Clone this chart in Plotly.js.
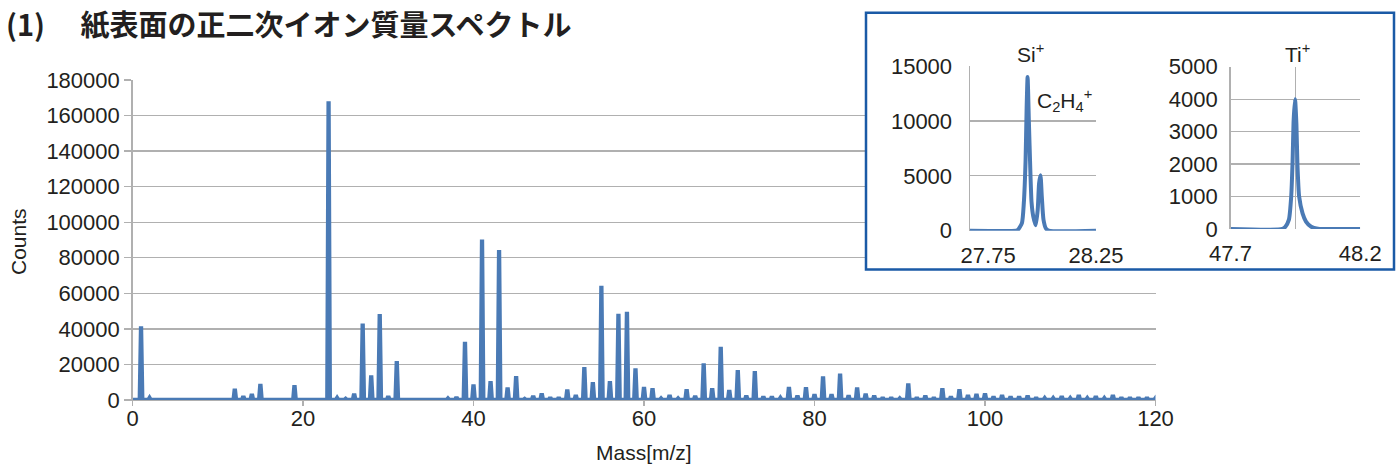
<!DOCTYPE html>
<html>
<head>
<meta charset="utf-8">
<script src="https://cdn.plot.ly/plotly-3.0.1.min.js"></script>
<style>html,body{margin:0;padding:0;background:#fff}#chart{width:1398px;height:466px}</style>
</head>
<body>
<div id="chart"></div>
<script>
// ---- main spectrum: peak masses and counts ----
const peakMass = [1,2,3,6,7,10,11,12,13,14,15,16,17,18,19,20,21,22,23,24,25,26,27,28,29,30,31,32,33,35,36,37,38,39,40,
  41,42,43,44,45,46,47,48,49,50,51,52,53,54,55,56,57,58,59,60,61,62,63,64,65,66,67,68,69,70,
  71,72,73,74,75,76,77,78,79,80,81,82,83,84,85,86,87,88,89,90,91,92,93,94,95,96,97,98,99,100,
  101,102,103,104,105,106,107,108,109,110,111,112,113,114,115,116,117,118,119,120,121];
const peakCounts = [41500,1200,300,300,300,300,500,6300,2200,3400,9000,500,600,600,8400,300,300,300,168000,1100,600,3600,43000,13800,48300,2200,21900,500,500,300,400,800,1600,32700,8800,
  90300,10600,84300,7000,13400,600,2300,3700,1500,1500,5900,2800,18500,10000,64300,10600,48500,49600,17800,7300,6600,800,2800,800,6000,2300,20600,6600,29900,5600,
  16800,2500,16300,1900,1900,1100,7300,2500,7200,3200,13300,3200,14800,2700,7000,3500,2500,1400,1400,800,9300,1500,2500,1400,6600,1900,6000,2800,3400,3700,
  1900,2800,1900,1900,2500,1400,1000,1000,2200,1000,2800,1000,2200,1000,2800,1400,1400,1400,1400,1000,600];

// ---- inset Si+/C2H4+ profile ----
const siMass = [27.75,27.933,27.940,27.9565,27.964,27.971,27.975,27.979,27.984,27.9898,27.9946,28.0014,28.011,28.019,28.0245,28.030,28.0353,28.042,28.0516,28.0625,28.25];
const siCounts = [0,0,60,700,2500,6400,11000,14000,10000,5500,2600,1300,500,1900,4300,5050,3100,1000,200,0,0];

// ---- inset Ti+ profile ----
const tiMass = [47.7,47.90,47.9116,47.9249,47.934,47.9394,47.9434,47.9487,47.954,47.958,47.9646,47.9778,47.991,48.011,48.037,48.06,48.2];
const tiCounts = [0,0,70,280,1000,2100,3350,4000,3250,2000,1000,480,230,70,10,0,0];

// ---- axis ticks ----
const mainXTicks = [0,20,40,60,80,100,120];
const mainYTicks = [0,20000,40000,60000,80000,100000,120000,140000,160000,180000];
const siXTicks = [27.75,28.25];
const siXLabels = ['\u00a0\u00a0\u00a0\u00a0\u00a0\u00a027.75','28.25'];
const siYTicks = [0,5000,10000,15000];
const tiXTicks = [47.7,48.2];
const tiXLabels = ['47.7','48.2'];
const tiYTicks = [0,1000,2000,3000,4000,5000];

// build spike line from peak list
const specX = [0], specY = [0];
for (let i = 0; i < peakMass.length; i++) {
  specX.push(peakMass[i]-0.15, peakMass[i], peakMass[i]+0.15);
  specY.push(0, peakCounts[i], 0);
}

const W = 1398, H = 466;
const px = v => v / W;
const py = v => 1 - v / H;
const BLUE = '#4a7ab5';
const GRID = '#b0b0b0';
const TXT = '#231f20';
const FONT = 'Liberation Sans, Arial, Helvetica, sans-serif';
const tickFont = {family: FONT, size: 22, color: TXT};

// geometry (pixels)
const mainL = 132.5, mainR = 1155.5, mainT = 80, mainB = 400;
const boxL = 866, boxR = 1394, boxT = 12.7, boxB = 269.5;
const yMax = 180000;
const boxBottomCounts = yMax * (mainB - boxB) / (mainB - mainT);

const hiddenX = {showgrid: false, showticklabels: false, ticks: '', showline: false, zeroline: false, fixedrange: true, range: [0, 1]};
const gridY = {showgrid: true, gridcolor: GRID, gridwidth: 1.3, showticklabels: false, ticks: '', showline: false, zeroline: false, fixedrange: true, tickvals: mainYTicks};

const traces = [
  // empty traces that hold the background grid subplots (drawn first, under the spectrum)
  {x: [], y: [], type: 'scatter', mode: 'lines', xaxis: 'x', yaxis: 'y', hoverinfo: 'skip'},
  {x: [], y: [], type: 'scatter', mode: 'lines', xaxis: 'x2', yaxis: 'y2', hoverinfo: 'skip'},
  {x: specX, y: specY, type: 'scatter', mode: 'lines', xaxis: 'x3', yaxis: 'y3',
   line: {color: BLUE, width: 4.3}, hoverinfo: 'skip'},
  {x: siMass, y: siCounts, type: 'scatter', mode: 'lines', xaxis: 'x4', yaxis: 'y4',
   line: {color: BLUE, width: 4, shape: 'spline', smoothing: 0.6}, hoverinfo: 'skip'},
  {x: tiMass, y: tiCounts, type: 'scatter', mode: 'lines', xaxis: 'x5', yaxis: 'y5',
   line: {color: BLUE, width: 4, shape: 'spline', smoothing: 0.6}, hoverinfo: 'skip'}
];

const layout = {
  width: W, height: H,
  margin: {l: 0, r: 0, t: 0, b: 0},
  paper_bgcolor: '#ffffff', plot_bgcolor: 'rgba(0,0,0,0)',
  showlegend: false,
  font: {family: FONT, color: TXT},
  // grid left of the inset box
  xaxis: Object.assign({domain: [px(mainL), px(boxL)], anchor: 'y'}, hiddenX),
  yaxis: Object.assign({domain: [1 - mainB/H, 1 - mainT/H], anchor: 'x', range: [0, yMax]}, gridY),
  // grid under the inset box
  xaxis2: Object.assign({domain: [px(boxL), px(mainR)], anchor: 'y2'}, hiddenX),
  yaxis2: Object.assign({domain: [1 - mainB/H, 1 - boxB/H], anchor: 'x2', range: [0, boxBottomCounts]}, gridY),
  // main spectrum axes
  xaxis3: {domain: [px(mainL), px(mainR)], range: [0, 120], tickvals: mainXTicks, anchor: 'y3',
    ticks: 'outside', ticklen: 5, tickcolor: GRID, tickwidth: 1.3, ticklabelstandoff: -7,
    showgrid: false, zeroline: false, showline: true, linecolor: GRID, linewidth: 1.3,
    tickfont: tickFont, fixedrange: true},
  yaxis3: {domain: [1 - mainB/H, 1 - mainT/H], range: [0, yMax], tickvals: mainYTicks, tickformat: 'd', anchor: 'x3',
    ticks: 'outside', ticklen: 7, tickcolor: GRID, tickwidth: 1.3,
    showgrid: false, zeroline: false,
    showline: true, linecolor: GRID, linewidth: 1.3, tickfont: tickFont, fixedrange: true},
  // Si inset
  xaxis4: {domain: [px(969.8), px(1096)], range: [27.75, 28.25], anchor: 'y4',
    tickvals: siXTicks, ticktext: siXLabels, ticks: 'outside', ticklen: 5, tickcolor: 'rgba(0,0,0,0)',
    showgrid: false, zeroline: false, showline: false, tickfont: tickFont, fixedrange: true},
  yaxis4: {domain: [1 - 230.7/H, 1 - 66/H], range: [0, 15000], anchor: 'x4',
    tickvals: siYTicks, tickformat: 'd', ticks: 'outside', ticklen: 12, tickcolor: 'rgba(0,0,0,0)',
    showgrid: true, gridcolor: GRID, gridwidth: 1.3, zeroline: false,
    showline: true, linecolor: GRID, linewidth: 1.3, tickfont: tickFont, fixedrange: true},
  // Ti inset
  xaxis5: {domain: [px(1230.5), px(1360.2)], range: [47.7, 48.2], anchor: 'y5',
    tickvals: tiXTicks, ticktext: tiXLabels, ticks: 'outside', ticklen: 5, tickcolor: 'rgba(0,0,0,0)',
    showgrid: false, zeroline: false, showline: false, tickfont: tickFont, fixedrange: true,
    minor: {tickvals: [47.95], showgrid: true, gridcolor: GRID, gridwidth: 1.3, ticks: ''}},
  yaxis5: {domain: [1 - 229/H, 1 - 66.7/H], range: [0, 5000], anchor: 'x5',
    tickvals: tiYTicks, tickformat: 'd', ticks: 'outside', ticklen: 7, tickcolor: 'rgba(0,0,0,0)',
    showgrid: true, gridcolor: GRID, gridwidth: 1.3, zeroline: false,
    showline: true, linecolor: GRID, linewidth: 1.3, tickfont: tickFont, fixedrange: true},
  shapes: [
    {type: 'rect', xref: 'paper', yref: 'paper', x0: px(boxL), x1: px(boxR), y0: py(boxB), y1: py(boxT),
     layer: 'above', fillcolor: 'rgba(0,0,0,0)', line: {color: '#1a5aa6', width: 2.5}}
  ],
  annotations: [
    {text: '(1)\u3000 紙表面の正二次イオン質量スペクトル', xref: 'paper', yref: 'paper', x: px(4), y: py(23),
     xanchor: 'left', yanchor: 'middle', showarrow: false,
     font: {family: 'Noto Sans CJK JP, sans-serif', size: 29, color: TXT, weight: 'bold'}},
    {text: 'Counts', xref: 'paper', yref: 'paper', x: px(18.3), y: py(241.7), textangle: -90,
     xanchor: 'center', yanchor: 'middle', showarrow: false, font: {family: FONT, size: 21, color: TXT}},
    {text: 'Mass[m/z]', xref: 'paper', yref: 'paper', x: px(644), y: 0,
     xanchor: 'center', yanchor: 'bottom', showarrow: false, font: {family: FONT, size: 21, color: TXT}},
    {text: 'Si<sup>+</sup>', xref: 'paper', yref: 'paper', x: px(1030), y: py(53),
     xanchor: 'center', yanchor: 'middle', showarrow: false, font: {family: FONT, size: 21, color: TXT}},
    {text: 'Ti<sup>+</sup>', xref: 'paper', yref: 'paper', x: px(1297), y: py(53),
     xanchor: 'center', yanchor: 'middle', showarrow: false, font: {family: FONT, size: 21, color: TXT}},
    {text: 'C<sub>2</sub>H<sub>4</sub><sup>+</sup>', xref: 'paper', yref: 'paper', x: px(1035), y: py(100),
     xanchor: 'left', yanchor: 'middle', showarrow: false, font: {family: FONT, size: 21, color: TXT}}
  ]
};

Plotly.newPlot('chart', traces, layout, {displayModeBar: false, staticPlot: true});
</script>
</body>
</html>
